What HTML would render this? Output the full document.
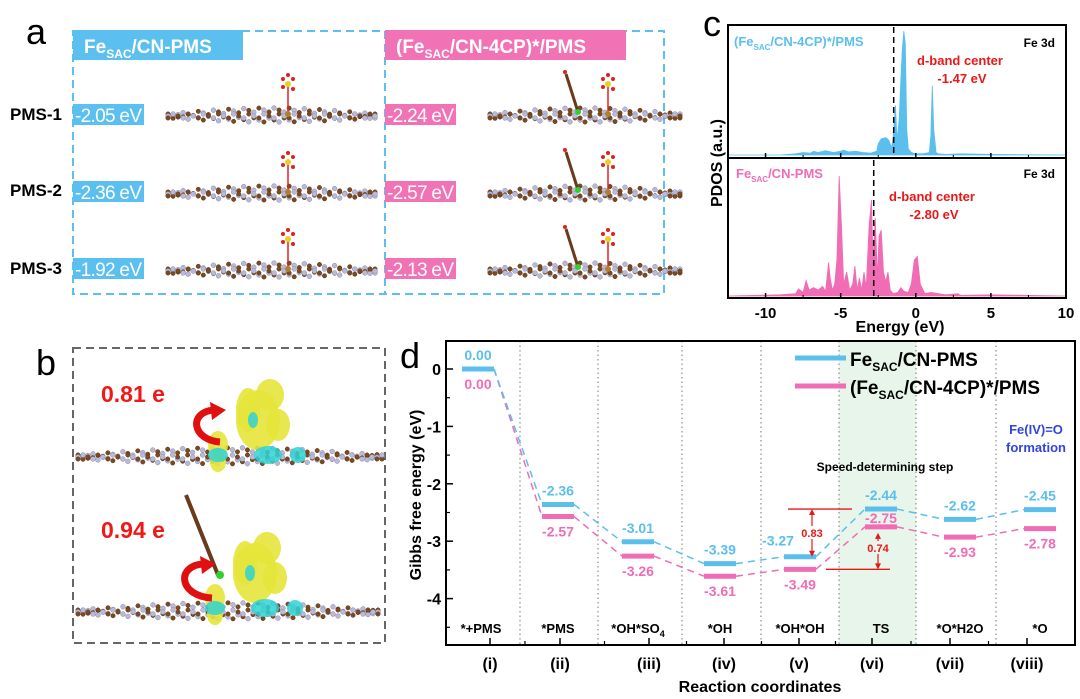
<!DOCTYPE html>
<html><head><meta charset="utf-8">
<style>
body{margin:0;background:#fff;}
#root{position:relative;width:1080px;height:699px;overflow:hidden;font-family:"Liberation Sans",Arial,sans-serif;}
svg{position:absolute;left:0;top:0;}
text{font-family:"Liberation Sans",Arial,sans-serif;}
.narrow{font-family:"Liberation Sans Narrow","Liberation Sans",sans-serif;}
</style></head>
<body>
<div id="root">
<svg id="svg" width="1080" height="699" viewBox="0 0 1080 699">
  <text x="26" y="44" font-size="36">a</text>
  <text x="36" y="375" font-size="36">b</text>
  <text x="703" y="36" font-size="36">c</text>
  <text x="400" y="368" font-size="36">d</text>

  <g>
    <rect x="73" y="31" width="591" height="263" fill="none" stroke="#5bc0ef" stroke-width="2" stroke-dasharray="8,5"/>
    <line x1="385" y1="31" x2="385" y2="294" stroke="#5bc0ef" stroke-width="2" stroke-dasharray="8,5"/>
    <rect x="73" y="30" width="170" height="30" fill="#5bc0ef"/>
    <text x="84" y="53" font-size="19" font-weight="bold" fill="#fff">Fe<tspan font-size="12" dy="5">SAC</tspan><tspan dy="-5">/CN-PMS</tspan></text>
    <rect x="385" y="30" width="241" height="30" fill="#f272b6"/>
    <text x="396" y="53" font-size="19" font-weight="bold" fill="#fff">(Fe<tspan font-size="12" dy="5">SAC</tspan><tspan dy="-5">/CN-4CP)*/PMS</tspan></text>
    <g font-size="17" font-weight="bold">
      <text x="10" y="120">PMS-1</text>
      <text x="10" y="196">PMS-2</text>
      <text x="10" y="274">PMS-3</text>
    </g>
    <g id="aBoxes"></g>
    <g id="aMols"></g>
  </g>

  <g>
    <rect x="73" y="348" width="312" height="295" fill="none" stroke="#666" stroke-width="2" stroke-dasharray="8,5"/>
    <text x="101" y="402" font-size="23" font-weight="bold" fill="#f01818">0.81 e</text>
    <text x="101" y="538" font-size="23" font-weight="bold" fill="#f01818">0.94 e</text>
    <g id="bMols"></g>
  </g>

  <g id="panelC"></g>
  <g id="panelD"></g>
</svg>
</div>
<script>
// ===== Panel d data =====
const dCategories = ["*+PMS","*PMS","*OH*SO4","*OH","*OH*OH","TS","*O*H2O","*O"];
const dRoman = ["(i)","(ii)","(iii)","(iv)","(v)","(vi)","(vii)","(viii)"];
const dBlue = [0.00,-2.36,-3.01,-3.39,-3.27,-2.44,-2.62,-2.45];
const dPink = [0.00,-2.57,-3.26,-3.61,-3.49,-2.75,-2.93,-2.78];
const dYTicks = [0,-1,-2,-3,-4];
// ===== Panel c data =====
const cXTicks = [-10,-5,0,5,10];
const cTopE = [-12.5,-9,-8,-7.5,-7,-6.8,-6.5,-6,-5.5,-5,-4.8,-4.5,-4,-3.5,-3,-2.6,-2.5,-2.3,-2.0,-1.8,-1.6,-1.5,-1.35,-1.25,-1.1,-1.0,-0.9,-0.8,-0.7,-0.6,-0.5,-0.3,0,0.5,0.9,1.0,1.1,1.2,1.35,1.5,2,3,5,10];
const cTopV = [0,0,0.01,0.02,0.015,0.03,0.02,0.035,0.02,0.03,0.04,0.025,0.03,0.02,0.015,0.03,0.09,0.13,0.14,0.12,0.06,0.15,0.4,0.12,0.3,0.6,0.85,1.0,0.9,0.2,0.05,0.02,0.01,0.01,0.02,0.15,0.56,0.2,0.02,0.01,0.005,0.01,0.005,0];
const cBotE = [-12.5,-9,-8,-7.8,-7.5,-7.3,-7.1,-6.8,-6.5,-6.2,-6.0,-5.8,-5.7,-5.55,-5.4,-5.25,-5.1,-4.95,-4.8,-4.6,-4.4,-4.2,-4.05,-3.9,-3.75,-3.6,-3.45,-3.3,-3.1,-2.95,-2.85,-2.7,-2.55,-2.45,-2.3,-2.15,-2.0,-1.85,-1.7,-1.5,-1.2,-1.0,-0.8,-0.5,-0.3,-0.1,0.1,0.3,0.6,1.0,2,2.8,3,5,10];
const cBotV = [0,0.01,0.02,0.06,0.03,0.13,0.05,0.07,0.05,0.08,0.04,0.28,0.15,0.05,0.1,0.3,1.0,0.6,0.1,0.2,0.05,0.1,0.25,0.05,0.15,0.05,0.2,0.07,0.6,0.8,0.3,0.65,0.15,0.5,0.55,0.2,0.12,0.2,0.05,0.02,0.03,0.07,0.04,0.03,0.1,0.3,0.33,0.1,0.02,0.03,0.01,0.02,0.005,0.01,0];

const NS="http://www.w3.org/2000/svg";
function mk(tag, attrs, parent, txt){
  const e=document.createElementNS(NS,tag);
  for(const k in attrs) e.setAttribute(k,attrs[k]);
  if(txt!==undefined) e.textContent=txt;
  parent.appendChild(e); return e;
}

(function(){
  const g=document.getElementById('aBoxes');
  const blueVals=["-2.05 eV","-2.36 eV","-1.92 eV"], pinkVals=["-2.24 eV","-2.57 eV","-2.13 eV"];
  const ys=[104,181,258];
  for(let i=0;i<3;i++){
    let r=mk('rect',{x:73,y:ys[i],width:71,height:21,fill:'#5bc0ef'},g);
    
    
    let t=mk('text',{x:75,y:ys[i]+18,'font-size':19,fill:'#fff','class':'narrow',textLength:67},g,blueVals[i]);
    
    
    r=mk('rect',{x:385,y:ys[i],width:71,height:21,fill:'#f272b6'},g);
    
    
    t=mk('text',{x:387,y:ys[i]+18,'font-size':19,fill:'#fff','class':'narrow',textLength:67},g,pinkVals[i]);
    
    
  }
})();

function sheet(g, x0, x1, yc, amp){
  const n=Math.round((x1-x0)/5);
  for(let i=0;i<=n;i++){
    const x=x0+(x1-x0)*i/n;
    const t=i/n;
    const bulge=Math.sin(t*Math.PI)*amp;
    const rows=[yc-bulge*0.6, yc+bulge*0.4, yc];
    rows.forEach((y,k)=>{
      const yy=y+((i+k)%3-1)*2;
      const brown=((i+k)%2===0);
      mk('circle',{cx:x,cy:yy,r:brown?2.2:2.4,fill:brown?'#7a4a22':'#b9b9d8',stroke:brown?'#5a3212':'#8c8cab','stroke-width':0.5},g);
    });
  }
}
function pms(g,x,y){
  mk('line',{x1:x,y1:y,x2:x,y2:y-30,stroke:'#d22',"stroke-width":1.5},g);
  mk('circle',{cx:x,cy:y-30,r:3,fill:'#e8d020'},g);
  [[-5,-5],[5,-5],[5,5],[-5,3],[0,-9]].forEach(d=>mk('circle',{cx:x+d[0],cy:y-30+d[1],r:2,fill:'#e02020'},g));
  mk('circle',{cx:x,cy:y,r:3,fill:'#b08030'},g);
}
function phenol(g,x,y){
  mk('line',{x1:x,y1:y,x2:x-12,y2:y-38,stroke:'#6a3a1a',"stroke-width":3},g);
  mk('circle',{cx:x,cy:y,r:3,fill:'#30d030'},g);
  mk('circle',{cx:x-13,cy:y-40,r:2,fill:'#e02020'},g);
}
(function(){
  const g=document.getElementById('aMols');
  
  
  const ys=[112,190,267];
  ys.forEach(y=>{
    sheet(g,168,375,y+4,10); pms(g,288,y+2);
    sheet(g,490,680,y+4,10); phenol(g,578,y); pms(g,608,y+2);
  });
})();
(function(){
  const g=document.getElementById('bMols');
  
  
  function blobs(cx,cy){
    [[0,-30,22,30],[12,-55,14,16],[-10,-40,12,22],[20,-25,12,16],[-40,-5,10,14],[-40,12,8,10]].forEach(b=>
      mk('ellipse',{cx:cx+b[0],cy:cy+b[1],rx:b[2],ry:b[3],fill:'#e6e43a',opacity:0.9},g));
    [[10,5,14,9],[-40,5,10,7],[40,5,8,8],[-5,-30,5,8]].forEach(b=>
      mk('ellipse',{cx:cx+b[0],cy:cy+b[1],rx:b[2],ry:b[3],fill:'#2fd4d4',opacity:0.85},g));
  }
  sheet(g,78,382,457,12); blobs(258,450);
  sheet(g,78,378,612,12);
  mk('line',{x1:218,y1:575,x2:186,y2:495,stroke:'#6a3a1a',"stroke-width":4},g);
  mk('circle',{cx:220,cy:575,r:4,fill:'#30d030'},g);
  blobs(255,603);
  mk('path',{d:'M220 442 C192 440 188 412 214 410',fill:'none',stroke:'#e01010','stroke-width':7},g);
  mk('path',{d:'M210 402 L226 410 L212 420 Z',fill:'#e01010'},g);
  mk('path',{d:'M212 598 C178 596 176 565 204 564',fill:'none',stroke:'#e01010','stroke-width':7},g);
  mk('path',{d:'M200 556 L216 564 L202 574 Z',fill:'#e01010'},g);
})();

(function(){
  const g=document.getElementById('panelC');
  const L=728,R=1066,T=25,M=158,B=298;
  const xs=e=>L+(e-(-12.5))/(22.5)*(R-L);
  function area(E,V,base,h,fill,name){
    let d='M'+xs(E[0])+' '+base;
    for(let i=0;i<E.length;i++) d+=' L'+xs(E[i]).toFixed(1)+' '+(base-V[i]*h).toFixed(1);
    d+=' L'+xs(E[E.length-1])+' '+base+' Z';
    const p=mk('path',{d:d,fill:fill,stroke:fill,'stroke-width':0.8},g);
    
    
  }
  area(cTopE,cTopV,155,124,'#5bbfee','pdos-fesac-cn-4cp');
  area(cBotE,cBotV,296,120,'#f06cb4','pdos-fesac-cn');
  const fr=mk('rect',{x:L,y:T,width:R-L,height:B-T,fill:'none',stroke:'#000','stroke-width':2},g);
  
  
  mk('line',{x1:L,y1:M,x2:R,y2:M,stroke:'#000','stroke-width':2},g);
  let dl=mk('line',{x1:xs(-1.47),y1:T+2,x2:xs(-1.47),y2:M-2,stroke:'#000','stroke-width':1.5,'stroke-dasharray':'6,4'},g);
  
  
  dl=mk('line',{x1:xs(-2.80),y1:M+2,x2:xs(-2.80),y2:B-2,stroke:'#000','stroke-width':1.5,'stroke-dasharray':'6,4'},g);
  
  
  cXTicks.forEach(v=>{
    const x=xs(v);
    mk('line',{x1:x,y1:B,x2:x,y2:B-5,stroke:'#000','stroke-width':1.5},g);
    mk('line',{x1:x,y1:M,x2:x,y2:M-5,stroke:'#000','stroke-width':1.5},g);
    const t=mk('text',{x:x,y:318,'font-size':15,'font-weight':'bold','text-anchor':'middle'},g,String(v));
    
    
  });
  for(let v=-12.5;v<=10;v+=2.5){ if(v%5!==0){const x=xs(v);mk('line',{x1:x,y1:B,x2:x,y2:B-3,stroke:'#000'},g);mk('line',{x1:x,y1:M,x2:x,y2:M-3,stroke:'#000'},g);} }
  const txt=(x,y,s,attrs,name)=>{const t=mk('text',Object.assign({x:x,y:y,'font-size':13,'font-weight':'bold'},attrs),g);t.innerHTML=s;return t;};
  txt(734,46,'(Fe<tspan font-size="8" dy="4">SAC</tspan><tspan dy="-4">/CN-4CP)*/PMS</tspan>',{fill:'#5bbfee'},'series-label-top');
  txt(1055,47,'Fe 3d',{'text-anchor':'end','font-size':12},'orbital-label-top');
  txt(960,65,'d-band center',{fill:'#e81818','text-anchor':'middle'},'d-band-center-label-top');
  txt(962,83,'-1.47 eV',{fill:'#e81818','text-anchor':'middle'},'d-band-center-value-top');
  txt(736,178,'Fe<tspan font-size="8" dy="4">SAC</tspan><tspan dy="-4">/CN-PMS</tspan>',{fill:'#f06cb4'},'series-label-bottom');
  txt(1055,178,'Fe 3d',{'text-anchor':'end','font-size':12},'orbital-label-bottom');
  txt(932,201,'d-band center',{fill:'#e81818','text-anchor':'middle'},'d-band-center-label-bottom');
  txt(934,219,'-2.80 eV',{fill:'#e81818','text-anchor':'middle'},'d-band-center-value-bottom');
  txt(900,332,'Energy (eV)',{'font-size':16,'text-anchor':'middle'},'x-axis-title-c');
  txt(0,0,'PDOS (a.u.)',{'font-size':16,'text-anchor':'middle',transform:'translate(722,163) rotate(-90)'},'y-axis-title-c');
})();

(function(){
  const g=document.getElementById('panelD');
  const L=446,R=1075,T=341,B=645;
  const y0=369, k=57.4;
  const ys=v=>y0-v*k;
  const barC=[478,558,638,720,800,881,960,1040];
  const labX=[490,560,649,724,799,872,950,1027];
  const xc=i=>barC[i];
  const hw=16;
  const divs=[520,598,682,761,839,916,996];
  const sh=mk('rect',{x:839,y:T,width:77,height:B-T,fill:'#e8f5ea'},g);
  
  
  divs.forEach(x=>mk('line',{x1:x,y1:T,x2:x,y2:B,stroke:'#777','stroke-width':1,'stroke-dasharray':'1.5,3'},g));
  function series(vals,color,name){
    for(let i=0;i<vals.length-1;i++){
      const c=mk('line',{x1:xc(i)+hw,y1:ys(vals[i]),x2:xc(i+1)-hw,y2:ys(vals[i+1]),stroke:color,'stroke-width':1.5,'stroke-dasharray':'7,5'},g);
      
      
    }
    vals.forEach((v,i)=>{
      const b=mk('line',{x1:xc(i)-hw,y1:ys(v),x2:xc(i)+hw,y2:ys(v),stroke:color,'stroke-width':5},g);
      
      
    });
  }
  series(dPink,'#f06cb4','pink-series');
  series(dBlue,'#5bbfee','blue-series');
  dBlue.forEach((v,i)=>{
    let x=xc(i), y=ys(v)-9;
    if(i===4){x=xc(i)-22;y=ys(v)-11;}
    const t=mk('text',{x:x,y:y,'font-size':14,'font-weight':'bold',fill:'#5bbfee','text-anchor':'middle'},g,v.toFixed(2));
    
    
  });
  dPink.forEach((v,i)=>{
    let x=xc(i), y=ys(v)+20;
    if(i===5){y=ys(v)-4;}
    const t=mk('text',{x:x,y:y,'font-size':14,'font-weight':'bold',fill:'#f06cb4','text-anchor':'middle'},g,v.toFixed(2));
    
    
  });
  const red='#e81818';
  mk('line',{x1:788,y1:ys(dBlue[5]),x2:852,y2:ys(dBlue[5]),stroke:red,'stroke-width':1.3},g);
  mk('line',{x1:826,y1:ys(dPink[4]),x2:890,y2:ys(dPink[4]),stroke:red,'stroke-width':1.3},g);
  function varrow(x,ya,yb){
    mk('line',{x1:x,y1:ya+5,x2:x,y2:yb-5,stroke:red,'stroke-width':1.2},g);
    mk('path',{d:`M${x-3} ${ya+6} L${x} ${ya} L${x+3} ${ya+6} Z`,fill:red},g);
    mk('path',{d:`M${x-3} ${yb-6} L${x} ${yb} L${x+3} ${yb-6} Z`,fill:red},g);
  }
  varrow(812,ys(dBlue[5]),ys(dBlue[4]));
  varrow(878,ys(dPink[5])+6,ys(dPink[4]));
  mk('rect',{x:800,y:526,width:24,height:13,fill:'#fff'},g);
  let t=mk('text',{x:812,y:537,'font-size':11,'font-weight':'bold',fill:red,'text-anchor':'middle'},g,(dBlue[5]-dBlue[4]).toFixed(2));
  
  
  mk('rect',{x:866,y:541,width:24,height:13,fill:'#e8f5ea'},g);
  t=mk('text',{x:878,y:552,'font-size':11,'font-weight':'bold',fill:red,'text-anchor':'middle'},g,(dPink[5]-dPink[4]).toFixed(2));
  
  
  const fr=mk('rect',{x:L,y:T,width:R-L,height:B-T,fill:'none',stroke:'#000','stroke-width':2},g);
  
  
  dYTicks.forEach(v=>{
    mk('line',{x1:L,y1:ys(v),x2:L+7,y2:ys(v),stroke:'#000','stroke-width':1.5},g);
    mk('line',{x1:L,y1:ys(v-0.5),x2:L+4,y2:ys(v-0.5),stroke:'#000','stroke-width':1.2},g);
    const tl=mk('text',{x:L-5,y:ys(v)+6,'font-size':16,'font-weight':'bold','text-anchor':'end'},g,String(v));
    
    
  });
  labX.forEach((x,i)=>{
    mk('line',{x1:x,y1:B,x2:x,y2:B-7,stroke:'#000','stroke-width':1.5},g);
    const mx=(x+(i<7?labX[i+1]:R))/2;
    if(i<7) mk('line',{x1:mx,y1:B,x2:mx,y2:B-4,stroke:'#000','stroke-width':1.2},g);
    const r=mk('text',{x:x,y:669,'font-size':16,'font-weight':'bold','text-anchor':'middle'},g,dRoman[i]);
    
    
    const c=mk('text',{x:xc(i)+(i===0?3:0),y:633,'font-size':13,'font-weight':'bold','text-anchor':'middle'},g);
    if(dCategories[i]==='*OH*SO4'){c.innerHTML='*OH*SO<tspan font-size="9" dy="4">4</tspan>';}
    else c.textContent=dCategories[i];
    
    
  });
  const ax=mk('text',{x:760,y:692,'font-size':16,'font-weight':'bold','text-anchor':'middle'},g,'Reaction coordinates');
  
  
  const ay=mk('text',{x:0,y:0,'font-size':16,'font-weight':'bold','text-anchor':'middle',transform:'translate(421,495) rotate(-90)'},g,'Gibbs free energy (eV)');
  
  
  let l=mk('line',{x1:795,y1:358,x2:846,y2:358,stroke:'#5bbfee','stroke-width':5},g);
  
  
  l=mk('line',{x1:795,y1:386,x2:846,y2:386,stroke:'#f06cb4','stroke-width':5},g);
  
  
  l=mk('text',{x:850,y:366,'font-size':19,'font-weight':'bold'},g);
  l.innerHTML='Fe<tspan font-size="12" dy="5">SAC</tspan><tspan dy="-5">/CN-PMS</tspan>';
  
  
  l=mk('text',{x:850,y:394,'font-size':19,'font-weight':'bold'},g);
  l.innerHTML='(Fe<tspan font-size="12" dy="5">SAC</tspan><tspan dy="-5">/CN-4CP)*/PMS</tspan>';
  
  
  l=mk('text',{x:1036,y:434,'font-size':13,'font-weight':'bold',fill:'#3044e0','text-anchor':'middle'},g,'Fe(IV)=O');
  
  
  l=mk('text',{x:1036,y:452,'font-size':13,'font-weight':'bold',fill:'#3044e0','text-anchor':'middle'},g,'formation');
  
  
  l=mk('text',{x:885,y:471,'font-size':12,'font-weight':'bold','text-anchor':'middle'},g,'Speed-determining step');
  
  
})();
</script>
</body></html>
